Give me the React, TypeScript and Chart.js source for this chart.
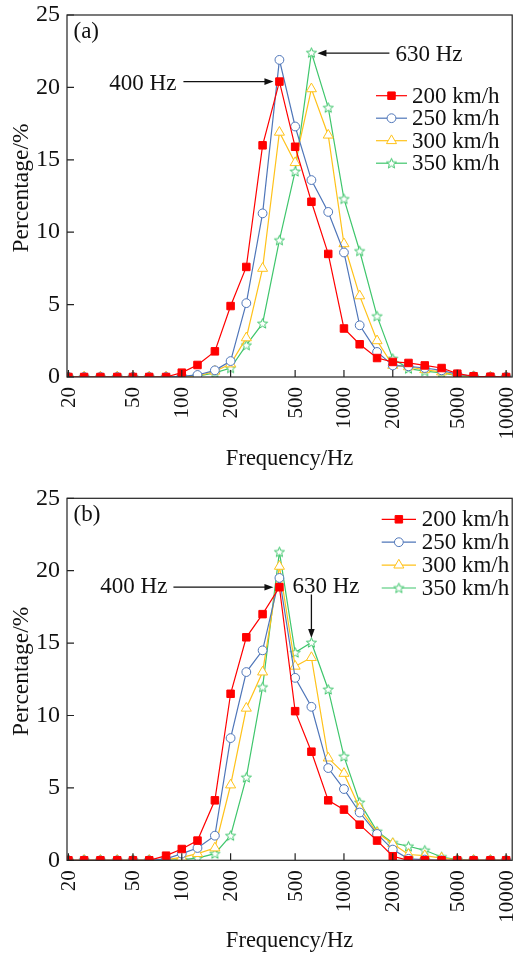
import React, { useEffect, useRef } from 'react';
import { Chart, registerables } from 'chart.js';
import { drawPoint } from 'chart.js/helpers';

Chart.register(...registerables);

// ---------- data ----------
const FREQS = [20, 25, 31.5, 40, 50, 63, 80, 100, 125, 160, 200, 250, 315, 400, 500, 630, 800, 1000, 1250, 1600, 2000, 2500, 3150, 4000, 5000, 6300, 8000, 10000];
const X_TICKS = [20, 50, 100, 200, 500, 1000, 2000, 5000, 10000];
const Y_TICKS = [0, 5, 10, 15, 20, 25];
const SERIES_NAMES = ['200 km/h', '250 km/h', '300 km/h', '350 km/h'];

// panel (a)
const A_200 = [0, 0, 0, 0, 0, 0, 0, 0.3, 0.83, 1.77, 4.9, 7.6, 16.0, 20.4, 15.9, 12.1, 8.5, 3.35, 2.26, 1.31, 1.04, 0.97, 0.8, 0.62, 0.23, 0.05, 0.02, 0];
const A_250 = [0, 0, 0, 0, 0, 0, 0, 0.05, 0.14, 0.46, 1.1, 5.1, 11.3, 21.9, 17.3, 13.6, 11.4, 8.6, 3.57, 1.73, 0.8, 0.74, 0.62, 0.46, 0.18, 0.05, 0, 0];
const A_300 = [0, 0, 0, 0, 0, 0, 0, 0, 0.05, 0.4, 0.9, 2.7, 7.5, 16.9, 14.8, 19.9, 16.7, 9.2, 5.6, 2.5, 0.8, 0.7, 0.5, 0.35, 0.1, 0.03, 0, 0];
const A_350 = [0, 0, 0, 0, 0, 0, 0, 0, 0.05, 0.28, 0.62, 2.2, 3.7, 9.45, 14.2, 22.4, 18.6, 12.3, 8.7, 4.2, 1.27, 0.58, 0.41, 0.28, 0.1, 0.03, 0, 0];

// panel (b)
const B_200 = [0, 0, 0, 0, 0, 0, 0.32, 0.78, 1.36, 4.14, 11.5, 15.4, 17.0, 18.86, 10.3, 7.5, 4.14, 3.5, 2.46, 1.36, 0.28, 0, 0, 0, 0, 0, 0, 0];
const B_250 = [0, 0, 0, 0, 0, 0, 0.1, 0.46, 0.85, 1.7, 8.44, 13.0, 14.5, 19.5, 12.6, 10.6, 6.37, 4.92, 3.3, 1.82, 0.74, 0.1, 0.05, 0, 0, 0, 0, 0];
const B_300 = [0, 0, 0, 0, 0, 0, 0.05, 0.2, 0.46, 0.85, 5.2, 10.5, 13.0, 20.3, 13.4, 14.0, 7.06, 6.0, 3.6, 1.9, 1.15, 0.4, 0.32, 0.15, 0.03, 0, 0, 0];
const B_350 = [0, 0, 0, 0, 0, 0, 0, 0.05, 0.15, 0.46, 1.7, 5.73, 11.96, 21.3, 14.35, 15.04, 11.8, 7.18, 4.0, 2.0, 1.2, 0.97, 0.69, 0.23, 0.05, 0, 0, 0];

const X_TITLE = 'Frequency/Hz';
const Y_TITLE = 'Percentage/%';

// ---------- styles ----------
const FONT = "'Liberation Serif', 'Times New Roman', serif";
const TEXT = '#111111';
const COLORS = ['#ff0000', '#4f76b9', '#ffc21a', '#3fc66c'];

function makeStar(color: string) {
  const c = document.createElement('canvas');
  const s = 13;
  c.width = s;
  c.height = s;
  const ctx = c.getContext('2d')!;
  ctx.beginPath();
  const cx = s / 2, cy = s / 2 + 0.4, R = 5.3, r = 2.3;
  for (let i = 0; i < 10; i++) {
    const ang = -Math.PI / 2 + (i * Math.PI) / 5;
    const rad = i % 2 === 0 ? R : r;
    const px = cx + rad * Math.cos(ang);
    const py = cy + rad * Math.sin(ang);
    if (i === 0) ctx.moveTo(px, py);
    else ctx.lineTo(px, py);
  }
  ctx.closePath();
  ctx.fillStyle = '#ffffff';
  ctx.fill();
  ctx.strokeStyle = color;
  ctx.lineWidth = 1;
  ctx.stroke();
  return c;
}

function markerStyles() {
  return [
    { pointStyle: 'rect' as any, radius: 5.3, fill: COLORS[0] },
    { pointStyle: 'circle' as any, radius: 4.4, fill: '#ffffff' },
    { pointStyle: 'triangle' as any, radius: 5.8, fill: '#ffffff' },
    { pointStyle: makeStar(COLORS[3]) as any, radius: 5, fill: '#ffffff' },
  ];
}

function arrow(ctx: CanvasRenderingContext2D, x1: number, y1: number, x2: number, y2: number) {
  const ang = Math.atan2(y2 - y1, x2 - x1);
  const L = 9, W = 3.3;
  ctx.beginPath();
  ctx.moveTo(x1, y1);
  ctx.lineTo(x2 - L * 0.8 * Math.cos(ang), y2 - L * 0.8 * Math.sin(ang));
  ctx.stroke();
  ctx.beginPath();
  ctx.moveTo(x2, y2);
  ctx.lineTo(x2 - L * Math.cos(ang) + W * Math.sin(ang), y2 - L * Math.sin(ang) - W * Math.cos(ang));
  ctx.lineTo(x2 - L * Math.cos(ang) - W * Math.sin(ang), y2 - L * Math.sin(ang) + W * Math.cos(ang));
  ctx.closePath();
  ctx.fill();
}

type PanelCfg = {
  tag: string;
  series: number[][];
  padTop: number;
  xAxisHeight: number;
  padBottom: number;
  titleBottomPad: number;
  legend: { lineL: number; lineR: number; textX: number; y0: number; dy: number };
  annotate: (chart: any, ctx: CanvasRenderingContext2D) => void;
};

function buildChart(canvas: HTMLCanvasElement, cfg: PanelCfg) {
  const markers = markerStyles();
  const datasets = cfg.series.map((vals, i) => ({
    label: SERIES_NAMES[i],
    data: FREQS.map((f, k) => ({ x: f, y: vals[k] })),
    borderColor: COLORS[i],
    backgroundColor: COLORS[i],
    borderWidth: 1.2,
    tension: 0,
    pointStyle: markers[i].pointStyle,
    pointRadius: markers[i].radius,
    pointHoverRadius: markers[i].radius,
    pointBorderWidth: 1,
    pointBorderColor: COLORS[i],
    pointBackgroundColor: markers[i].fill,
  }));

  const overlay = {
    id: 'overlay',
    afterDatasetsDraw(chart: any) {
      const ctx: CanvasRenderingContext2D = chart.ctx;
      const { left, right, top, bottom } = chart.chartArea;
      const xs = chart.scales.x;
      const ys = chart.scales.y;
      ctx.save();
      // frame
      ctx.strokeStyle = '#222222';
      ctx.lineWidth = 1.2;
      ctx.strokeRect(left, top, right - left, bottom - top);
      // inward tick marks
      ctx.beginPath();
      X_TICKS.forEach((v) => {
        const px = xs.getPixelForValue(v);
        ctx.moveTo(px, bottom);
        ctx.lineTo(px, bottom - 7);
      });
      Y_TICKS.forEach((v) => {
        const py = ys.getPixelForValue(v);
        ctx.moveTo(left, py);
        ctx.lineTo(left + 7, py);
      });
      ctx.stroke();
      // y-axis title (rotated)
      ctx.save();
      ctx.translate(21.7, (top + bottom) / 2 - 8);
      ctx.rotate(-Math.PI / 2);
      ctx.fillStyle = TEXT;
      ctx.font = `23.5px ${FONT}`;
      ctx.textAlign = 'center';
      ctx.textBaseline = 'middle';
      ctx.fillText(Y_TITLE, 0, 0);
      ctx.restore();
      // panel tag
      ctx.fillStyle = TEXT;
      ctx.font = `23px ${FONT}`;
      ctx.textBaseline = 'middle';
      ctx.textAlign = 'left';
      ctx.fillText(cfg.tag, left + 6.5, top + 17);
      // legend
      const lg = cfg.legend;
      SERIES_NAMES.forEach((name, i) => {
        const y = lg.y0 + i * lg.dy;
        ctx.strokeStyle = COLORS[i];
        ctx.lineWidth = 1.2;
        ctx.beginPath();
        ctx.moveTo(lg.lineL, y);
        ctx.lineTo(lg.lineR, y);
        ctx.stroke();
        ctx.fillStyle = markers[i].fill;
        ctx.strokeStyle = COLORS[i];
        ctx.lineWidth = 1;
        drawPoint(ctx, { pointStyle: markers[i].pointStyle, radius: markers[i].radius, borderWidth: 1, rotation: 0 } as any, (lg.lineL + lg.lineR) / 2, y);
        ctx.fillStyle = TEXT;
        ctx.font = `23px ${FONT}`;
        ctx.textAlign = 'left';
        ctx.textBaseline = 'middle';
        ctx.fillText(name, lg.textX, y + 1);
      });
      // annotations
      ctx.strokeStyle = '#111111';
      ctx.fillStyle = '#111111';
      ctx.lineWidth = 1.3;
      cfg.annotate(chart, ctx);
      ctx.restore();
    },
  };

  return new Chart(canvas, {
    type: 'line',
    data: { datasets },
    plugins: [overlay],
    options: {
      animation: false,
      responsive: false,
      devicePixelRatio: 1,
      layout: { padding: { left: 5, right: 1.5, top: cfg.padTop, bottom: cfg.padBottom } },
      plugins: { legend: { display: false }, tooltip: { enabled: false } },
      scales: {
        x: {
          type: 'logarithmic',
          min: 19.6,
          max: 10900,
          grid: { display: false, drawTicks: false },
          border: { display: false },
          afterBuildTicks: (s: any) => {
            s.ticks = X_TICKS.map((v) => ({ value: v }));
          },
          afterFit: (s: any) => {
            s.height = cfg.xAxisHeight;
            s.paddingLeft = 0;
            s.paddingRight = 0;
          },
          ticks: {
            autoSkip: false,
            minRotation: 90,
            maxRotation: 90,
            padding: 10,
            labelOffset: 1,
            color: TEXT,
            font: { family: FONT, size: 21 },
            callback: (v: any) => String(v),
          },
          title: {
            display: true,
            text: X_TITLE,
            color: TEXT,
            font: { family: FONT, size: 22.5 },
            padding: { top: 4, bottom: cfg.titleBottomPad },
          },
        },
        y: {
          min: 0,
          max: 25,
          grid: { display: false, drawTicks: false },
          border: { display: false },
          afterFit: (s: any) => {
            s.width = 62;
            s.paddingTop = 0;
            s.paddingBottom = 0;
          },
          ticks: {
            stepSize: 5,
            padding: 7,
            color: TEXT,
            font: { family: FONT, size: 24 },
          },
          title: { display: false },
        },
      },
    } as any,
  });
}

function textAt(ctx: CanvasRenderingContext2D, s: string, x: number, y: number, align: CanvasTextAlign) {
  ctx.font = `23px ${FONT}`;
  ctx.textAlign = align;
  ctx.textBaseline = 'middle';
  ctx.fillText(s, x, y);
}

const PANEL_A: PanelCfg = {
  tag: '(a)',
  series: [A_200, A_250, A_300, A_350],
  padTop: 15,
  xAxisHeight: 100,
  padBottom: 1,
  titleBottomPad: 4,
  legend: { lineL: 376, lineR: 407, textX: 412, y0: 95.7, dy: 22.5 },
  annotate: (chart, ctx) => {
    const xs = chart.scales.x, ys = chart.scales.y;
    const p4x = xs.getPixelForValue(400), p4y = ys.getPixelForValue(A_200[13]);
    arrow(ctx, p4x - 96, p4y, p4x - 6, p4y);
    textAt(ctx, '400 Hz', p4x - 103, p4y + 2, 'right');
    const p6x = xs.getPixelForValue(630), p6y = ys.getPixelForValue(A_350[15]);
    arrow(ctx, p6x + 78, p6y + 0.5, p6x + 6, p6y + 0.5);
    textAt(ctx, '630 Hz', p6x + 84, p6y + 2.5, 'left');
  },
};

const PANEL_B: PanelCfg = {
  tag: '(b)',
  series: [B_200, B_250, B_300, B_350],
  padTop: 20.3,
  xAxisHeight: 95.7,
  padBottom: 0,
  titleBottomPad: 1,
  legend: { lineL: 381.7, lineR: 416, textX: 421.7, y0: 41.3, dy: 22.9 },
  annotate: (chart, ctx) => {
    const xs = chart.scales.x, ys = chart.scales.y;
    const p4x = xs.getPixelForValue(400), p4y = ys.getPixelForValue(B_200[13]);
    arrow(ctx, p4x - 106, p4y, p4x - 6, p4y);
    textAt(ctx, '400 Hz', p4x - 112, p4y, 'right');
    const p6x = xs.getPixelForValue(630), p6y = ys.getPixelForValue(B_350[15]);
    arrow(ctx, p6x, p6y - 48, p6x, p6y - 4.5);
    textAt(ctx, '630 Hz', p6x - 19, p6y - 55.5, 'left');
  },
};

function Panel({ cfg, top }: { cfg: PanelCfg; top: number }) {
  const ref = useRef<HTMLCanvasElement | null>(null);
  useEffect(() => {
    if (!ref.current) return;
    const chart = buildChart(ref.current, cfg);
    return () => chart.destroy();
  }, [cfg]);
  return (
    <canvas
      ref={ref}
      width={519}
      height={478}
      style={{ position: 'absolute', left: 0, top, width: 519, height: 478, display: 'block' }}
    />
  );
}

export default function App() {
  return (
    <div style={{ position: 'absolute', left: 0, top: 0, width: 519, height: 956, background: '#ffffff', overflow: 'hidden' }}>
      <Panel cfg={PANEL_A} top={0} />
      <Panel cfg={PANEL_B} top={478} />
    </div>
  );
}
